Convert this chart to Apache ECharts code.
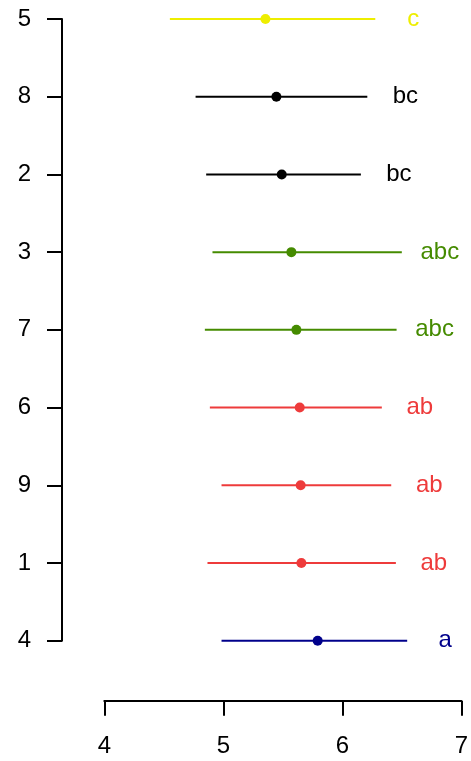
<!DOCTYPE html>
<html>
<head>
<meta charset="utf-8">
<script src="https://cdn.jsdelivr.net/npm/echarts@6/dist/echarts.min.js"></script>
<style>
html,body{margin:0;padding:0;background:#fff;}
#chart{width:471px;height:761px;}
</style>
</head>
<body>
<div id="chart"></div>
<script>
// categories, top to bottom
const categories = ['5', '8', '2', '3', '7', '6', '9', '1', '4'];
const means  = [5.354, 5.446, 5.491, 5.572, 5.614, 5.642, 5.650, 5.656, 5.793];
const lows   = [4.551, 4.767, 4.856, 4.909, 4.845, 4.887, 4.985, 4.867, 4.985];
const highs  = [6.277, 6.210, 6.156, 6.500, 6.456, 6.332, 6.411, 6.450, 6.545];
const letters = ['c', 'bc', 'bc', 'abc', 'abc', 'ab', 'ab', 'ab', 'a'];
const xTicks = [4, 5, 6, 7];

// styles
const groupColours = { c: '#EEEE00', bc: '#000000', abc: '#458B00', ab: '#EE3B3B', a: '#00008B' };
const FONT = 'Liberation Sans, Arial, Helvetica, sans-serif';
const FS = 24;

const data = categories.map((c, i) => [lows[i], highs[i], means[i], i, letters[i]]);

const chart = echarts.init(document.getElementById('chart'), null, { renderer: 'canvas' });
chart.setOption({
  animation: false,
  backgroundColor: '#ffffff',
  grid: { left: 104.3, right: 9, top: 19, bottom: 120.3, containLabel: false },
  xAxis: {
    type: 'value', min: 4, max: 7, interval: 1, offset: 60,
    axisLine: { show: true, lineStyle: { color: '#000', width: 2 } },
    axisTick: { show: true, length: 15, lineStyle: { color: '#000', width: 2 } },
    axisLabel: { color: '#000', fontSize: FS, fontFamily: FONT, margin: 34,
      formatter: v => xTicks.includes(v) ? String(v) : '' },
    splitLine: { show: false }
  },
  yAxis: {
    type: 'category', data: categories, inverse: true, boundaryGap: false, offset: 42.3,
    axisLine: { show: true, lineStyle: { color: '#000', width: 2 } },
    axisTick: { show: true, length: 15, alignWithLabel: true, lineStyle: { color: '#000', width: 2 } },
    axisLabel: { color: '#000', fontSize: FS, fontFamily: FONT, margin: 31 },
    splitLine: { show: false }
  },
  series: [{
    type: 'custom',
    clip: false,
    data: data,
    encode: { x: [0, 1, 2], y: 3 },
    renderItem: function (params, api) {
      const lo = api.value(0), hi = api.value(1), m = api.value(2), idx = api.value(3);
      const letter = letters[idx];
      const col = groupColours[letter];
      const p1 = api.coord([lo, idx]);
      const p2 = api.coord([hi, idx]);
      const pm = api.coord([m, idx]);
      return {
        type: 'group',
        children: [
          { type: 'line', shape: { x1: p1[0], y1: p1[1], x2: p2[0], y2: p2[1] },
            style: { stroke: col, lineWidth: 2 } },
          { type: 'circle', shape: { cx: pm[0], cy: pm[1], r: 5 },
            style: { fill: col } },
          { type: 'text', x: p2[0] + 38, y: p2[1],
            style: { text: letter, fill: col, fontSize: FS, fontFamily: FONT,
              align: 'center', verticalAlign: 'middle' } }
        ]
      };
    }
  }]
});
</script>
</body>
</html>
